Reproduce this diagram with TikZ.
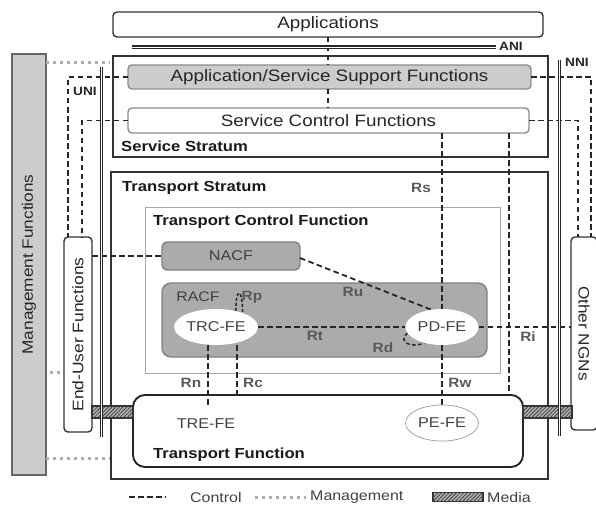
\documentclass[tikz,border=0pt]{standalone}
\usepackage{fontspec}
\setmainfont{Liberation Sans}[FakeStretch=1.14]
\usetikzlibrary{shapes.geometric,patterns.meta}
\pgfdeclarelayer{frames}
\pgfdeclarelayer{links}
\pgfsetlayers{frames,links,main}
\newcommand\fsz[1]{\fontsize{#1pt}{#1pt}\selectfont}

\begin{document}
\begin{tikzpicture}[x=1pt,y=-1pt,
  frame/.style={draw=black!80, line width=1.4pt, fill=white, inner sep=0pt, outer sep=0pt},
  media/.style={draw=black!80, line width=1.1pt, fill=black!30, inner sep=0pt, outer sep=0pt,
    postaction={pattern={Lines[angle=45,distance=2.6pt,line width=0.8pt]}, pattern color=black!75}},
  ctrl/.style={draw=black!85, line width=1.8pt, dash pattern=on 5.5pt off 3.5pt},
  mgmt/.style={draw=black!32, line width=3pt, dash pattern=on 3pt off 4pt},
  iface/.style={draw=black!85, line width=1.2pt, double=white, double distance=0.8pt},
  big/.style={font=\fsz{16.5}, text=black!85},
  hdr/.style={font=\bfseries\fsz{14.6}, text=black!90, anchor=west, inner sep=0pt},
  refl/.style={font=\bfseries\fsz{13.5}, text=black!65, inner sep=0pt},
  tag/.style={font=\bfseries\fsz{12}, text=black!85, inner sep=0pt, anchor=west},
  fe/.style={ellipse, fill=white, minimum width=73pt, minimum height=36pt, inner sep=0pt,
    font=\fsz{14.2}, text=black!75},
  legend/.style={font=\fsz{14}, text=black!75, anchor=west, inner sep=0pt}]
\useasboundingbox (0,0) rectangle (596,508);

% ---------- boxes ----------
\begin{pgfonlayer}{frames}
  \node[frame, rounded corners=4pt, minimum width=430pt, minimum height=25pt, big] (app) at (328,24.5) {Applications};
  \node[frame, minimum width=435pt, minimum height=101pt] (ss) at (330.5,106.5) {};
  \node[frame, rounded corners=4pt, draw=black!45, fill=black!20, minimum width=403pt, minimum height=24pt, big] (asf) at (329.5,77) {Application/Service Support Functions};
  \node[frame, rounded corners=4pt, draw=black!45, minimum width=401pt, minimum height=25pt, big] (scf) at (328.5,120.5) {Service Control Functions};
  \node[frame, draw=black!60, fill=black!20, minimum width=34pt, minimum height=421pt] (mf) at (29,264.5) {};
  \node[frame, rounded corners=4pt, minimum width=28pt, minimum height=195pt] (euf) at (78,334.5) {};
  \node[frame, rounded corners=4pt, minimum width=26pt, minimum height=193pt] (ongn) at (584,333.5) {};
  \node[frame, minimum width=437pt, minimum height=307pt] (ts) at (329.5,325.5) {};
  \node[frame, draw=black!35, line width=0.9pt, minimum width=355pt, minimum height=166pt] (tcf) at (322.5,290) {};
  \node[frame, rounded corners=5pt, draw=black!50, fill=black!33, minimum width=138pt, minimum height=28pt, font=\fsz{14.2}, text=black!75] (nacf) at (231,256) {NACF};
  \node[frame, rounded corners=9pt, draw=black!50, fill=black!33, minimum width=325pt, minimum height=74pt] (racf) at (324.5,320) {};
  \node[frame, rounded corners=12pt, line width=1.9pt, draw=black!85, minimum width=390pt, minimum height=72pt] (tf) at (328,431) {};
  \node[media, minimum width=41pt, minimum height=12pt] (mediaL) at (112.5,412) {};
  \node[media, minimum width=49pt, minimum height=12pt] (mediaR) at (547.5,412) {};
\end{pgfonlayer}

% ---------- box captions ----------
\node[rotate=90, font=\fsz{15.1}, text=black!85] at (mf.center) {Management Functions};
\node[rotate=90, font=\fsz{15.3}, text=black!85] at (euf.center) {End-User Functions};
\node[rotate=-90, font=\fsz{15.1}, text=black!85] at (ongn.center) {Other NGNs};
\node[hdr] at (121,146) {Service Stratum};
\node[hdr] at (122,188) {Transport Stratum};
\node[hdr] at (153,222) {Transport Control Function};
\node[hdr] at (153,455) {Transport Function};
\node[font=\fsz{13.9}, text=black!75, inner sep=0pt] at (198,297) {RACF};

% ---------- functional entities ----------
\node[fe] (trc) at (216,327) {TRC-FE};
\node[fe] (pd) at (442,327) {PD-FE};
\node[fe, draw=black!40, line width=0.7pt] (pe) at (442,423) {PE-FE};
\node[fe, fill=none] (tre) at (206,424) {TRE-FE};

% ---------- reference points ----------
\coordinate (u1) at (68,0);
\coordinate (u2) at (82,0);
\coordinate (n1) at (591,0);
\coordinate (n2) at (578,0);
\coordinate (ri) at (509,0);
\coordinate (rn) at (208,0);
\coordinate (rc) at (237,0);
\coordinate (m1) at (110,63);
\coordinate (m2) at (110,458);
\coordinate (m3) at (50,372);

\begin{pgfonlayer}{links}
  % control links
  \draw[ctrl] (app.south) -- (app.south |- asf.north);
  \draw[ctrl] (app.south |- asf.south) -- (app.south |- scf.north);
  \draw[ctrl] (asf.west) -- (asf.west -| u1) -- (u1 |- euf.north);
  \draw[ctrl] (scf.west) -- (scf.west -| u2) -- (u2 |- euf.north);
  \draw[ctrl] (asf.east) -- (asf.east -| n1) -- (n1 |- ongn.north);
  \draw[ctrl] (scf.east) -- (scf.east -| n2) -- (n2 |- ongn.north);
  \draw[ctrl] (euf.east |- nacf.west) -- (nacf.west);
  \draw[ctrl] ([yshift=-2pt]nacf.east) -- (pd.122);
  \draw[ctrl] (trc.east) -- (pd.west);
  \draw[ctrl] (pd.east) -- (ongn.west |- pd.east);
  \draw[ctrl] (scf.south -| pd.north) -- (pd.north);
  \draw[ctrl] (pd.south) -- (pe.north);
  \draw[ctrl] (scf.south -| ri) -- (tf.north -| ri);
  \draw[ctrl] (trc.center -| rn) -- (tre.north -| rn);
  \draw[ctrl] (trc.center -| rc) -- (tf.north -| rc);
  \draw[ctrl, dash pattern=on 3pt off 2pt, line width=1.5pt] (trc.39) .. controls +(0,-25) and +(0,-25) .. (trc.28);
  \draw[ctrl, dash pattern=on 3.5pt off 2.5pt, line width=1.5pt] (pd.190) .. controls +(-10,8) and +(-14,6) .. (pd.222);
  % management links
  \draw[mgmt] (mf.east |- m1) -- (m1);
  \draw[mgmt] (mf.east |- m2) -- (m2);
  \draw[mgmt] (m3) -- (euf.west |- m3);
\end{pgfonlayer}

% ---------- reference point labels ----------
\node[refl] at (421,188) {Rs};
\node[refl] at (353,292) {Ru};
\node[refl] at (315,336) {Rt};
\node[refl] at (383,348) {Rd};
\node[refl] at (252,297) {Rp};
\node[refl] at (191,383) {Rn};
\node[refl] at (253,383) {Rc};
\node[refl] at (460,383) {Rw};
\node[refl] at (528,337) {Ri};

% ---------- interfaces ----------
\coordinate (aniL) at (132,47);
\coordinate (aniR) at (496,47);
\coordinate (uniT) at (101.5,67);
\coordinate (uniB) at (101.5,437);
\coordinate (nniT) at (559.5,60);
\coordinate (nniB) at (559.5,436);
\draw[iface] (aniL) -- (aniR);
\draw[iface] (uniT) -- (uniB);
\draw[iface] (nniT) -- (nniB);
\node[tag] at (499,46.5) {ANI};
\node[tag] at (73,91) {UNI};
\node[tag] at (565,62) {NNI};

% ---------- legend ----------
\coordinate (lc1) at (129,497);
\coordinate (lc2) at (166,497);
\coordinate (lm1) at (255,497);
\coordinate (lm2) at (306,497);
\draw[ctrl] (lc1) -- (lc2);
\node[legend] at (190,497) {Control};
\draw[mgmt] (lm1) -- (lm2);
\node[legend] at (310,497) {Management};
\node[media, minimum width=50pt, minimum height=9pt] (lmedia) at (458,497) {};
\node[legend] at (487,497) {Media};
\end{tikzpicture}
\end{document}
